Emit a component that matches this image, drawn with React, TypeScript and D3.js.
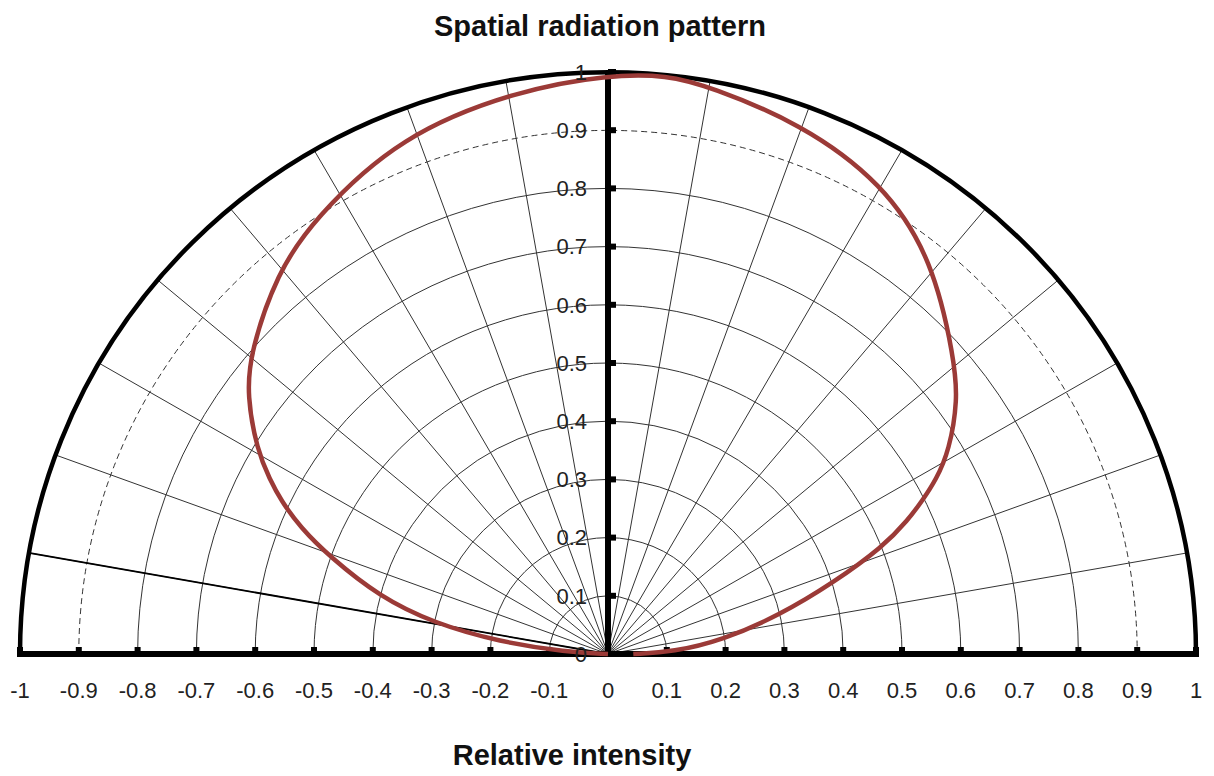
import * as d3 from 'd3';
import React from 'react';

// pattern: angle from the vertical axis (deg, left negative) and relative intensity
const angleDeg = [-90, -87.2, -83.6, -79.8, -75.8, -70.6, -67.4, -64.6, -62.5, -59.6, -54.1, -49.6, -40.7, -33.9, -21.6, -8.8, 0, 5.8, 10.1, 19.7, 30, 39.2, 49.4, 53.7, 58.9, 61.8, 63.7, 65.7, 68.5, 72.3, 77.1, 83, 88.2, 90];
const intensity = [0, 0.07, 0.185, 0.302, 0.4, 0.501, 0.567, 0.616, 0.648, 0.692, 0.758, 0.799, 0.863, 0.899, 0.959, 0.981, 0.995, 1.0, 0.99, 0.969, 0.935, 0.874, 0.776, 0.738, 0.678, 0.633, 0.597, 0.56, 0.503, 0.402, 0.3, 0.197, 0.111, 0.043];

// extra ray drawn in black (angle from the +x axis)
const rayAngle = 170;
const rayLength = 1;

const xTicks = [-1, -0.9, -0.8, -0.7, -0.6, -0.5, -0.4, -0.3, -0.2, -0.1, 0, 0.1, 0.2, 0.3, 0.4, 0.5, 0.6, 0.7, 0.8, 0.9, 1];
const rTicks = [0, 0.1, 0.2, 0.3, 0.4, 0.5, 0.6, 0.7, 0.8, 0.9, 1];
const circleRadii = [0.1, 0.2, 0.3, 0.4, 0.5, 0.6, 0.7, 0.8, 0.9];
const spokeAngles = [10, 20, 30, 40, 50, 60, 70, 80, 100, 110, 120, 130, 140, 150, 160, 170];

const title = 'Spatial radiation pattern';
const axisTitle = 'Relative intensity';

const W = 1214;
const H = 776;
const font = 'Liberation Sans, Arial, sans-serif';

export default function App() {
  const x = d3.scaleLinear().domain([-1, 1]).range([20, 1196]);
  const y = d3.scaleLinear().domain([0, 1]).range([654, 72]);

  const rx = (r: number) => x(r) - x(0);
  const ry = (r: number) => y(0) - y(r);
  const arc = (r: number) =>
    `M${x(-r)},${y(0)} A${rx(r)},${ry(r)} 0 0 1 ${x(r)},${y(0)}`;

  const pts = angleDeg.map((a, i) => {
    const t = (a * Math.PI) / 180;
    return [intensity[i] * Math.sin(t), intensity[i] * Math.cos(t)] as [number, number];
  });
  const line = d3
    .line<[number, number]>()
    .x((d) => x(d[0]))
    .y((d) => y(d[1]))
    .curve(d3.curveBasis);

  const ray = (deg: number, r: number) => {
    const t = (deg * Math.PI) / 180;
    return { x2: x(r * Math.cos(t)), y2: y(r * Math.sin(t)) };
  };

  return (
    <div style={{ position: 'absolute', left: 0, top: 0 }}>
      <svg width={W} height={H} style={{ display: 'block', background: '#fff' }}>
        <text x={600} y={36} textAnchor="middle" fontFamily={font} fontWeight="bold" fontSize={29} fill="#111">
          {title}
        </text>

        {/* concentric rings */}
        <g fill="none" stroke="#333" strokeWidth={1}>
          {circleRadii.map((r) => (
            <path key={r} d={arc(r)} strokeDasharray={r === 0.9 ? '6,4' : undefined} />
          ))}
        </g>

        {/* spokes */}
        <g stroke="#333" strokeWidth={1}>
          {spokeAngles.map((a) => {
            const p = ray(a, 1);
            return <line key={a} x1={x(0)} y1={y(0)} x2={p.x2} y2={p.y2} />;
          })}
        </g>

        {(() => {
          const p = ray(rayAngle, rayLength);
          return <line x1={x(0)} y1={y(0)} x2={p.x2} y2={p.y2} stroke="#000" strokeWidth={1.8} />;
        })()}

        {/* outer ring */}
        <path d={arc(1)} fill="none" stroke="#000" strokeWidth={4.5} />

        {/* axes */}
        <line x1={x(-1) - 3} x2={x(1) + 3} y1={y(0)} y2={y(0)} stroke="#000" strokeWidth={6} />
        <line x1={x(0)} x2={x(0)} y1={y(0)} y2={y(1) - 1} stroke="#000" strokeWidth={6} />

        {xTicks.map((t) => (
          <rect key={'xt' + t} x={x(t) - 3} y={y(0) - 7} width={6} height={7} fill="#000" />
        ))}
        {rTicks.slice(1).map((t) => (
          <rect key={'rt' + t} x={x(0)} y={y(t) - 3} width={8} height={6} fill="#000" />
        ))}

        {/* pattern */}
        <path d={line(pts) || ''} fill="none" stroke="#9b3a37" strokeWidth={4.5} strokeLinejoin="round" />

        <g fontFamily={font} fontSize={22} fill="#222">
          {xTicks.map((t) => (
            <text key={'xl' + t} x={x(t)} y={698} textAnchor="middle">
              {String(t)}
            </text>
          ))}
          {rTicks.map((t) => (
            <text key={'rl' + t} x={x(0) - 21} y={y(t)} dy="0.35em" textAnchor="end">
              {String(t)}
            </text>
          ))}
        </g>

        <text x={572} y={765} textAnchor="middle" fontFamily={font} fontWeight="bold" fontSize={29} fill="#111">
          {axisTitle}
        </text>
      </svg>
    </div>
  );
}
